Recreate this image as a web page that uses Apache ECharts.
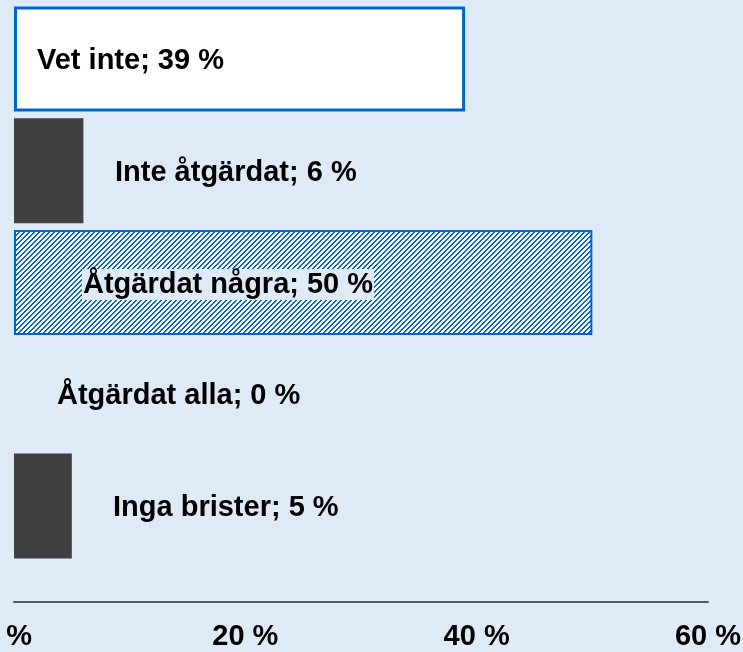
<!DOCTYPE html>
<html>
<head>
<meta charset="utf-8">
<script src="https://cdn.jsdelivr.net/npm/echarts@6/dist/echarts.min.js"></script>
<style>
  html, body { margin: 0; padding: 0; background: #deebf7; }
  #chart { width: 743px; height: 652px; }
</style>
</head>
<body>
<div id="chart"></div>
<script>
// Svar per kategori (andel i procent)
const categories = ['Vet inte', 'Inte åtgärdat', 'Åtgärdat några', 'Åtgärdat alla', 'Inga brister'];
const values = [39, 6, 50, 0, 5];
const tickValues = [0, 20, 40, 60];

const BLUE = '#0066cc';
const DARK = '#404040';
const BG = '#deebf7';
const FONT = '"Liberation Sans", Arial, sans-serif';

// Diagonal hatch ("/" stripes) used for the "Åtgärdat några" bar
function makeHatch() {
  const n = 5;
  const c = document.createElement('canvas');
  c.width = n; c.height = n;
  const ctx = c.getContext('2d');
  ctx.fillStyle = '#ffffff';
  ctx.fillRect(0, 0, n, n);
  ctx.fillStyle = BLUE;
  for (let y = 0; y < n; y++) {
    for (let x = 0; x < n; x++) {
      if ((x + y) % n < 2) ctx.fillRect(x, y, 1, 1);
    }
  }
  return c;
}

// Per-bar appearance and label placement (x offset from the bar's left edge)
const barStyles = [
  { itemStyle: { color: '#ffffff', borderColor: BLUE, borderWidth: 3 }, labelX: 23 },
  { itemStyle: { color: DARK }, labelX: 101 },
  { itemStyle: { color: { image: makeHatch(), repeat: 'repeat' }, borderColor: BLUE, borderWidth: 2 },
    labelX: 68, label: { backgroundColor: BG, padding: [2, 1, 0, 1] } },
  { itemStyle: { color: DARK }, labelX: 43 },
  { itemStyle: { color: DARK }, labelX: 99 }
];

const seriesData = values.map((v, i) => {
  const s = barStyles[i];
  return {
    value: v,
    itemStyle: s.itemStyle,
    label: Object.assign({ position: [s.labelX, '50%'], offset: [0, 2] }, s.label || {})
  };
});

const chart = echarts.init(document.getElementById('chart'), null, { renderer: 'canvas' });
chart.setOption({
  backgroundColor: BG,
  animation: false,
  grid: { left: 14, right: 35, top: 3, bottom: 90, outerBoundsMode: 'none', containLabel: false },
  xAxis: {
    type: 'value',
    min: tickValues[0],
    max: tickValues[tickValues.length - 1],
    interval: tickValues[1] - tickValues[0],
    offset: 40,
    axisLine: { show: true, lineStyle: { color: '#595959', width: 2 } },
    axisTick: { show: false },
    splitLine: { show: false },
    axisLabel: {
      // the first label sits at the left edge, nudged left
      formatter: v => (v === tickValues[0] ? '{first|' + v + ' %}' : v + ' %'),
      rich: { first: { padding: [0, 14, 0, 0] } },
      color: '#000',
      fontFamily: FONT,
      fontWeight: 'bold',
      fontSize: 29,
      margin: 20
    }
  },
  yAxis: {
    type: 'category',
    data: categories,
    inverse: true,
    show: false
  },
  series: [{
    type: 'bar',
    data: seriesData,
    barWidth: 105,
    label: {
      show: true,
      formatter: '{b}; {c} %',
      align: 'left',
      verticalAlign: 'middle',
      color: '#000',
      fontFamily: FONT,
      fontWeight: 'bold',
      fontSize: 29
    }
  }]
});
</script>
</body>
</html>
